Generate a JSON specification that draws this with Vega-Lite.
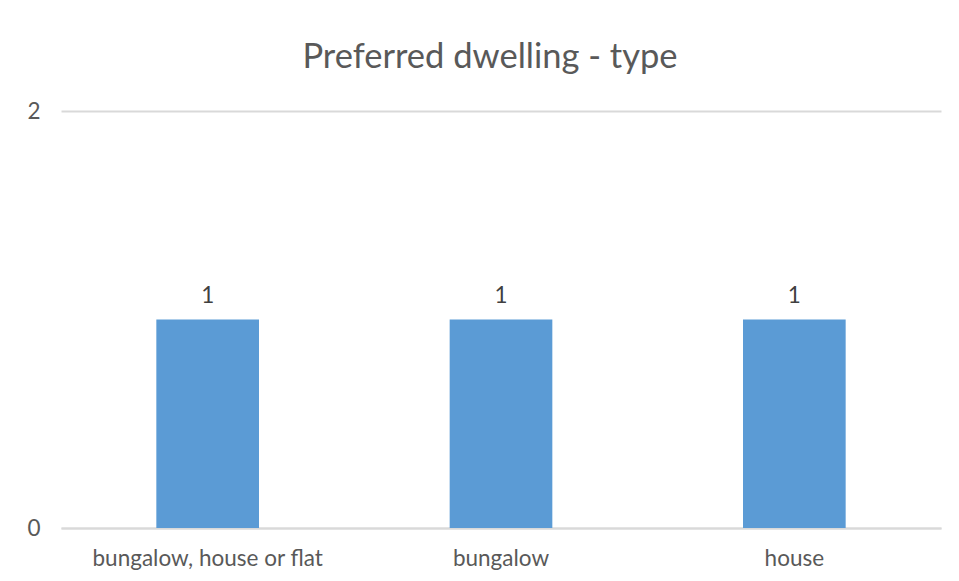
{
  "$schema": "https://vega.github.io/schema/vega-lite/v6.json",
  "autosize": "none",
  "width": 880,
  "height": 417,
  "padding": {"left": 61, "top": 111, "right": 18, "bottom": 53},
  "background": "white",
  "title": {
    "text": "Preferred dwelling - type",
    "font": "Lato",
    "fontSize": 34.5,
    "fontWeight": "normal",
    "color": "#595959",
    "anchor": "middle",
    "dx": -11,
    "offset": 25
  },
  "data": {
    "values": [
      {"type": "bungalow, house or flat", "count": 1},
      {"type": "bungalow", "count": 1},
      {"type": "house", "count": 1}
    ]
  },
  "encoding": {
    "x": {
      "field": "type",
      "type": "nominal",
      "sort": null,
      "scale": {"paddingInner": 0.65, "paddingOuter": 0.325},
      "axis": {
        "title": null,
        "labelAngle": 0,
        "labelFont": "Lato",
        "labelFontSize": 22.5,
        "labelLimit": 0,
        "labelColor": "#595959",
        "labelPadding": 19,
        "domainColor": "#d9d9d9",
        "domainWidth": 2,
        "ticks": false
      }
    },
    "y": {
      "field": "count",
      "type": "quantitative",
      "scale": {"domain": [0, 2]},
      "axis": {
        "title": null,
        "values": [0, 1, 2],
        "format": "d",
        "labelFont": "Lato",
        "labelFontSize": 22.5,
        "labelColor": "#595959",
        "labelPadding": 21,
        "domain": false,
        "ticks": false,
        "gridColor": "#d9d9d9",
        "gridWidth": 2
      }
    }
  },
  "layer": [
    {"mark": {"type": "bar", "color": "#5b9bd5"}},
    {
      "mark": {"type": "text", "dy": -24, "font": "Lato", "fontSize": 22.5, "color": "#404040"},
      "encoding": {"text": {"field": "count", "type": "quantitative"}}
    }
  ],
  "config": {"view": {"stroke": null}}
}
